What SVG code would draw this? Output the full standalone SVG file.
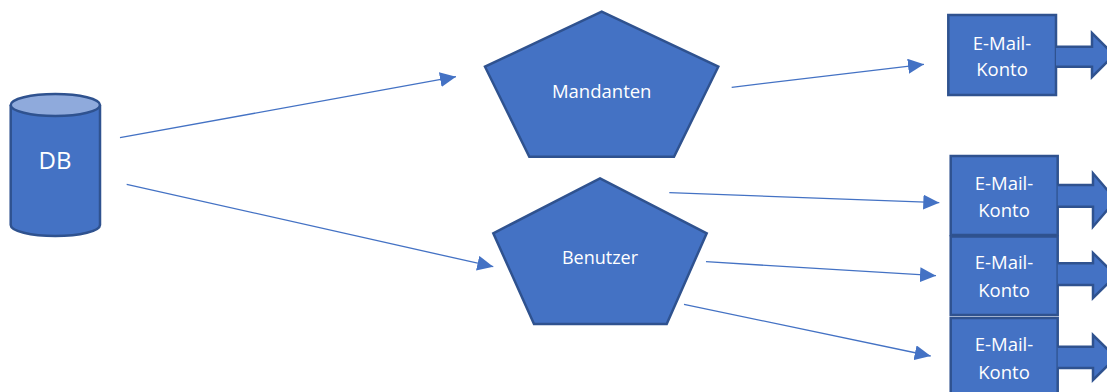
<svg xmlns="http://www.w3.org/2000/svg" width="1107" height="392" viewBox="0 0 1107 392">
<style>
.shape{fill:#4472C4;stroke:#2F528F;stroke-width:2.5;stroke-linejoin:miter}
.lbl{fill:#FFFFFF;font-family:"Open Sans","Liberation Sans",sans-serif;text-anchor:middle;dominant-baseline:central}
.conn{stroke:#4472C4;stroke-width:1.3;fill:none;marker-end:url(#ah)}
</style>
<defs>
<marker id="ah" markerUnits="userSpaceOnUse" markerWidth="16" markerHeight="15" refX="16" refY="7.5" orient="auto">
<path d="M0,0 L16,7.5 L0,15 Z" fill="#4472C4"/>
</marker>
</defs>
<rect width="1107" height="392" fill="#FFFFFF"/>
<g id="db">
<path class="shape" d="M10.7,105 L10.7,225 A44.65,11 0 0 0 100,225 L100,105"/>
<ellipse cx="55.35" cy="105" rx="44.65" ry="11" fill="#8FAADC" stroke="#2F528F" stroke-width="2.5"/>
<text class="lbl" x="55" y="159" font-size="24">DB</text>
</g>
<g id="mandanten">
<polygon class="shape" points="601.7,11.7 718.3,66.7 674,156.7 529.3,156.7 485,66.7"/>
<text class="lbl" x="601.7" y="90" font-size="18.5">Mandanten</text>
</g>
<g id="benutzer">
<polygon class="shape" points="600,178.3 706.7,233.3 666.7,324 534,324 493.3,233.3"/>
<text class="lbl" x="600" y="257" font-size="18">Benutzer</text>
</g>
<g id="mail1">
<rect class="shape" x="948.3" y="15" width="107.7" height="80"/>
<path class="shape" d="M1056,46.7 L1092,46.7 L1092,33 L1114,55 L1092,77 L1092,66.7 L1056,66.7"/>
<text class="lbl" x="1002" y="42" font-size="18.5">E-Mail-</text>
<text class="lbl" x="1002" y="68.5" font-size="18.5">Konto</text>
</g>
<g id="mail2">
<rect class="shape" x="950.7" y="156" width="107" height="79"/>
<path class="shape" d="M1057.7,185 L1093,185 L1093,173.3 L1116,200 L1093,226.7 L1093,206.7 L1057.7,206.7"/>
<text class="lbl" x="1004" y="182" font-size="18.5">E-Mail-</text>
<text class="lbl" x="1004" y="209" font-size="18.5">Konto</text>
</g>
<g id="mail3">
<rect class="shape" x="950.7" y="236.5" width="107" height="78.5"/>
<path class="shape" d="M1057.7,263.3 L1093,263.3 L1093,253 L1116,275.5 L1093,298 L1093,285 L1057.7,285"/>
<text class="lbl" x="1004" y="261.5" font-size="18.5">E-Mail-</text>
<text class="lbl" x="1004" y="289" font-size="18.5">Konto</text>
</g>
<g id="mail4">
<rect class="shape" x="950.7" y="318" width="107" height="80"/>
<path class="shape" d="M1057.7,346.7 L1093,346.7 L1093,335 L1116,357.5 L1093,380 L1093,368 L1057.7,368"/>
<text class="lbl" x="1004" y="343.5" font-size="18.5">E-Mail-</text>
<text class="lbl" x="1004" y="371" font-size="18.5">Konto</text>
</g>
<g id="connectors">
<line class="conn" x1="120" y1="137.7" x2="456" y2="76.7"/>
<line class="conn" x1="126.7" y1="184.3" x2="493.3" y2="266.7"/>
<line class="conn" x1="731.7" y1="87.3" x2="924" y2="64.3"/>
<line class="conn" x1="669.3" y1="192.7" x2="939.3" y2="202.7"/>
<line class="conn" x1="706" y1="261.7" x2="936" y2="275.7"/>
<line class="conn" x1="684" y1="304.3" x2="930.7" y2="356"/>
</g>
</svg>
